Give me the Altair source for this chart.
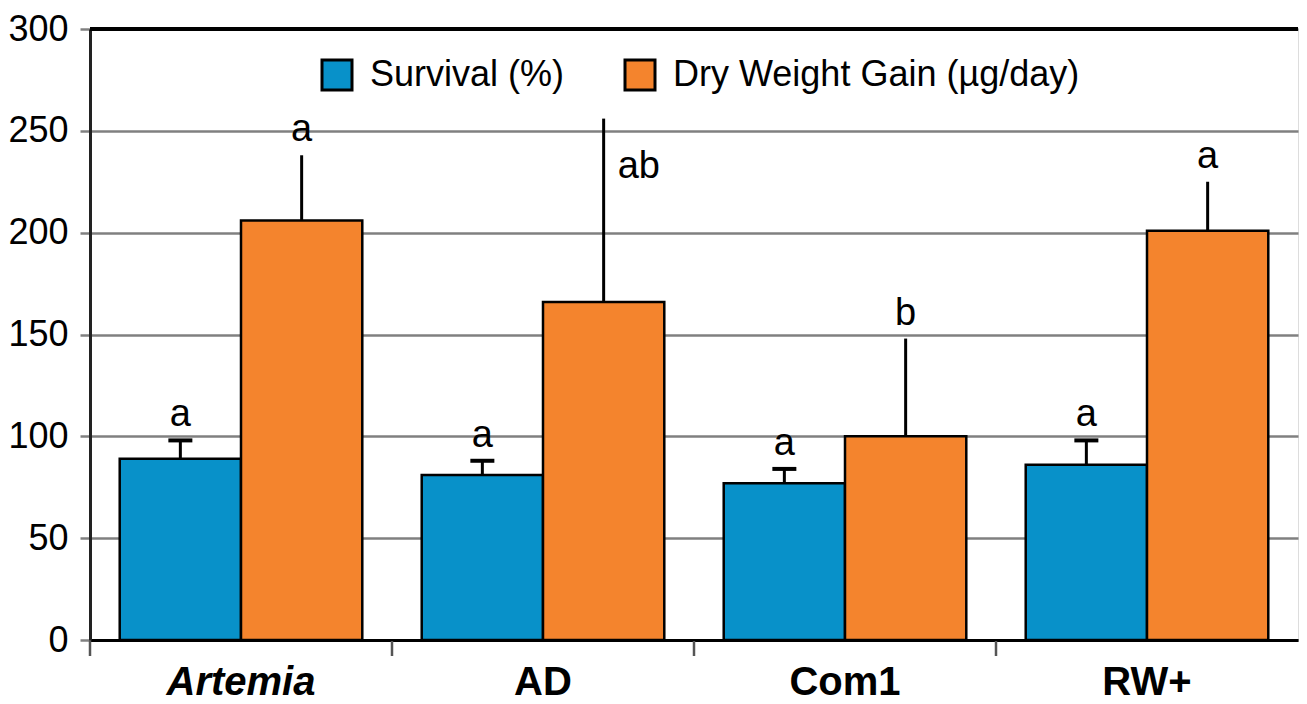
import altair as alt
import pandas as pd

categories = ["Artemia", "AD", "Com1", "RW+"]
series = ["Survival (%)", "Dry Weight Gain (µg/day)"]
survival = [89, 81, 77, 86]
survival_err = [9, 7, 7, 12]
dwg = [206, 166, 100, 201]
dwg_err = [32, 90, 48, 24]
survival_letters = ["a", "a", "a", "a"]
dwg_letters = ["a", "ab", "b", "a"]
dwg_letter_side = ["above", "right", "above", "above"]

rows = []
for i, c in enumerate(categories):
    rows.append(dict(category=c, series=series[0], value=survival[i], err=survival_err[i],
                     top=survival[i] + survival_err[i], letter=survival_letters[i], side="above"))
    rows.append(dict(category=c, series=series[1], value=dwg[i], err=dwg_err[i],
                     top=dwg[i] + dwg_err[i], letter=dwg_letters[i], side=dwg_letter_side[i]))
df = pd.DataFrame(rows)

W, H = 1208, 611
FONT = "Liberation Sans"

x_axis = alt.Axis(title=None, ticks=False, labelFontSize=40, labelFontWeight="bold",
                  labelFontStyle={"expr": "datum.value == 'Artemia' ? 'italic' : 'normal'"},
                  labelPadding=54, domainColor="black", domainWidth=3, labelColor="black",
                  labelAngle=0, labelFont=FONT, labelBaseline="alphabetic")
x_enc = alt.X("category:N", sort=categories, scale=alt.Scale(paddingInner=0, paddingOuter=0), axis=x_axis)
xo_enc = alt.XOffset("series:N", sort=series, scale=alt.Scale(paddingOuter=0.245, paddingInner=0))
y_scale = alt.Scale(domain=[0, 300], nice=False)
y_axis = alt.Axis(title=None, values=[0, 50, 100, 150, 200, 250, 300], labelFontSize=36,
                  tickSize=10, tickColor="#808080", tickWidth=2.5, gridColor="#808080",
                  gridWidth=2.5, gridOpacity=1, domainColor="#222222", domainWidth=3,
                  labelPadding=12, labelColor="black", labelFont=FONT)

base = alt.Chart(df)

bars = base.mark_bar(stroke="black", strokeWidth=2.5).encode(
    x=x_enc,
    xOffset=xo_enc,
    y=alt.Y("value:Q", scale=y_scale, axis=y_axis),
    color=alt.Color("series:N", sort=series,
                    scale=alt.Scale(domain=series, range=["#0891C9", "#F4842D"]),
                    legend=alt.Legend(orient="none", legendX=229, legendY=28, direction="horizontal",
                                      title=None, symbolType="square", symbolSize=900,
                                      symbolStrokeColor="black", symbolStrokeWidth=3,
                                      labelFontSize=36, labelFont=FONT, labelColor="black",
                                      labelLimit=0, columnPadding=54, labelOffset=15,
                                      symbolOpacity=1)),
)

err = base.mark_rule(color="black", strokeWidth=3).encode(
    x=x_enc, xOffset=xo_enc, y=alt.Y("value:Q", scale=y_scale), y2="top:Q")

caps = base.transform_filter(alt.datum.series == series[0]).mark_tick(
    color="black", thickness=4, size=24, opacity=1).encode(
    x=x_enc, xOffset=xo_enc, y=alt.Y("top:Q", scale=y_scale))

letters_above = base.transform_filter(alt.datum.side == "above").mark_text(
    fontSize=38, font=FONT, baseline="alphabetic", dy=-14, color="black").encode(
    x=x_enc, xOffset=xo_enc, y=alt.Y("top:Q", scale=y_scale), text="letter:N")

letters_right = base.transform_filter(alt.datum.side == "right").mark_text(
    fontSize=38, font=FONT, baseline="alphabetic", align="left", dx=14, dy=59, color="black").encode(
    x=x_enc, xOffset=xo_enc, y=alt.Y("top:Q", scale=y_scale), text="letter:N")

xticks = base.transform_filter(alt.datum.series == series[0]).mark_rule(
    color="#555555", strokeWidth=2.5).encode(
    x=alt.X("category:N", sort=categories, bandPosition=0,
            scale=alt.Scale(paddingInner=0, paddingOuter=0), axis=x_axis),
    y=alt.value(H + 1), y2=alt.value(H + 16))

top_line = base.mark_rule(color="black", strokeWidth=3).encode(y=alt.value(0))

chart = alt.layer(bars, err, caps, letters_above, letters_right, xticks, top_line).properties(
    width=W, height=H,
    padding={"left": 82, "top": 21, "right": 1, "bottom": 56},
    autosize=alt.AutoSizeParams(type="none"),
).configure_view(stroke=None).configure(font=FONT)

chart.save("out.html", embed_options={"renderer": "svg", "actions": False})
